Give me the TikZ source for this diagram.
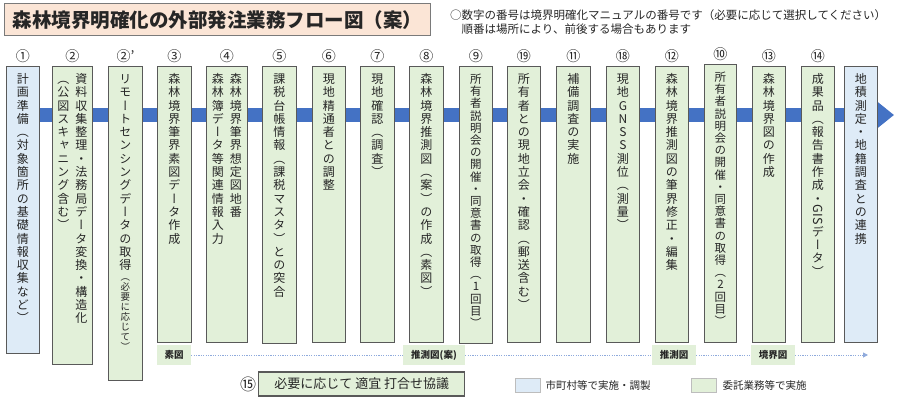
\documentclass[tikz,border=0pt]{standalone}
\usepackage{fontspec}
\usepackage{xcolor}
\usepackage{graphicx}
\usepackage{tikz}
\usetikzlibrary{positioning,backgrounds,arrows.meta}

\setmainfont{Noto Sans CJK JP}
\newfontfamily\vfont[RawFeature={+vert}]{Noto Sans CJK JP}

\definecolor{bandblue}{HTML}{4472C4}
\definecolor{boxgreen}{HTML}{E2F0D9}
\definecolor{boxblue}{HTML}{DEEBF7}
\definecolor{boxline}{HTML}{595959}
\definecolor{titlefill}{HTML}{FBE5D6}
\definecolor{dotblue}{HTML}{8FAADC}
\definecolor{txtgray}{HTML}{262626}

% vertical text: one character per row, fixed pitch
\newlength\vcolw
\setlength\vcolw{15pt}
\newlength\vpitch
\let\vend\relax
\newcommand\vsmall{\fontsize{9.5}{10}\selectfont\setlength\vpitch{10pt}}
\newcommand\vtight{\fontsize{11.5}{12.2}\selectfont\setlength\vpitch{12.2pt}}
\newcommand\rotgis{\rotatebox[origin=c]{-90}{\fontsize{12.5}{12.5}\selectfont GIS}}
\newcommand\vrow[1]{\hbox to\vcolw{\hss\vrule width0pt height.88\vpitch depth.12\vpitch\smash{#1}\hss}}
\def\vchop#1{\ifx#1\vend\else\ifx#1\vsmall\vsmall\else\ifx#1\rotgis\hbox to\vcolw{\hss\rotgis\hss}\else\vrow{#1}\fi\fi\expandafter\vchop\fi}
\newcommand\vcol[2][\fontsize{12}{13.3}\selectfont\setlength\vpitch{13.3pt}]{\vtop{\offinterlineskip\vfont#1\vchop#2\vend}}
\newcommand\vtwo[2]{\hbox{\vcol{#2}\hskip3pt\vcol{#1}}}

\begin{document}
\begin{tikzpicture}[x=1pt, y=-1pt,
		flowbox/.style={draw=boxline, line width=0.9pt, anchor=north west, inner xsep=0pt, inner ysep=3pt, text height=14pt, minimum width=33pt, text=txtgray},
		gbox/.style={flowbox, fill=boxgreen},
		bbox/.style={flowbox, fill=boxblue},
		numlbl/.style={font=\fontsize{14}{14}\selectfont, inner sep=0pt, text=txtgray, above=3pt of #1},
		maplbl/.style={fill=boxgreen, font=\bfseries\fontsize{9.5}{9.5}\selectfont, minimum width=34pt, minimum height=20pt, inner sep=1pt, text=txtgray},
		dotline/.style={dotblue, line width=1pt, dash pattern=on 1.2pt off 1.2pt},
		band/.style={bandblue, line width=14pt, -{Triangle[length=17pt,width=26pt]}},
		swatch/.style={draw=boxline!40, fill=#1, minimum width=25pt, minimum height=14pt, inner sep=0pt, anchor=north west},
		legtxt/.style={font=\fontsize{10.5}{10.5}\selectfont, inner sep=0pt, text=txtgray}
	]
			%\draw[help lines, step=50] (0,0) grid (900,402);
			\useasboundingbox (0,0) rectangle (900,402);

			\node[draw=boxline!80, line width=1.2pt, fill=titlefill, anchor=north west, minimum width=426pt, minimum height=32pt, inner sep=0pt, font=\bfseries\fontsize{19.5}{19.5}\selectfont, text=txtgray] (title) at (4,3) {森林境界明確化の外部発注業務フロー図（案）};
			\node[anchor=north west, align=left, inner sep=0pt, font=\fontsize{11.5}{14.5}\selectfont, text=txtgray] (note) at (450,9) {○数字の番号は境界明確化マニュアルの番号です（必要に応じて選択してください）\\\hspace*{1em}順番は場所により、前後する場合もあります};

			% process columns
			\node[bbox, text depth=267pt] (b1) at (6,66) {\vcol{計画準備（対象箇所の基礎情報収集など）}};
			\node[gbox, minimum width=40pt, text depth=278pt] (b2) at (52,66) {\vtwo{資料収集整理・法務局データ変換・構造化}{（公図スキャニング含む）}};
			\node[gbox, minimum width=34pt, text depth=294pt] (b2p) at (108,66) {\vcol{リモートセンシングデータの取得\vsmall（必要に応じて）}};
			\node[gbox, minimum width=34pt, text depth=256pt] (b3) at (157,66) {\vcol{森林境界筆界素図データ作成}};
			\node[gbox, minimum width=41pt, text depth=256pt] (b4) at (206,66) {\vtwo{森林境界筆界想定図地番}{森林簿データ等関連情報入力}};
			\node[gbox, minimum width=34pt, text depth=257pt] (b5) at (262,66) {\vcol{課税台帳情報（課税マスタ）との突合}};
			\node[gbox, text depth=256pt] (b6) at (312,66) {\vcol{現地精通者との調整}};
			\node[gbox, minimum width=34pt, text depth=256pt] (b7) at (360,66) {\vcol{現地確認（調査）}};
			\node[gbox, minimum width=34pt, text depth=256pt] (b8) at (409,66) {\vcol{森林境界推測図（案）の作成（素図）}};
			\node[gbox, text depth=257pt] (b9) at (459,66) {\vcol[\vtight]{所有者説明会の開催・同意書の取得（1回目）}};
			\node[gbox, text depth=256pt] (b19) at (507,66) {\vcol{所有者との現地立会・確認（郵送含む）}};
			\node[gbox, minimum width=34pt, text depth=256pt] (b11) at (556,66) {\vcol{補備調査の実施}};
			\node[gbox, text depth=256pt] (b18) at (606,66) {\vcol{現地GNSS測位（測量）}};
			\node[gbox, text depth=256pt] (b12) at (655,66) {\vcol{森林境界推測図の筆界修正・編集}};
			\node[gbox, minimum width=32pt, text depth=258pt] (b10) at (704,64) {\vcol[\vtight]{所有者説明会の開催・同意書の取得（2回目）}};
			\node[gbox, text depth=256pt] (b13) at (752,66) {\vcol{森林境界図の作成}};
			\node[gbox, text depth=256pt] (b14) at (801,66) {\vcol{成果品（報告書作成・\rotgis データ）}};
			\node[bbox, text depth=256pt] (bend) at (844,66) {\vcol{地積測定・地籍調査との連携}};

			\foreach \b/\n in {b1/①, b2/②, b2p/②', b3/③, b4/④, b5/⑤, b6/⑥, b7/⑦, b8/⑧, b9/⑨, b19/⑲, b11/⑪, b18/⑱, b12/⑫, b10/⑩, b13/⑬, b14/⑭}
				\node[numlbl=\b] (n\b) {\n};

			\coordinate (tip) at (894,115);
			\begin{scope}[on background layer]
				\draw[band] (b1 |- tip) -- (tip);
			\end{scope}

			% map stages
			\node[maplbl] (lsozu) at (174,355) {素図};
			\node[maplbl, minimum width=62pt] (lsuisokuan) at (434,355) {推測図(案)};
			\node[maplbl, minimum width=44pt] (lsuisoku) at (674,355) {推測図};
			\node[maplbl, minimum width=44pt] (lkyokai) at (773,355) {境界図};
			\coordinate (dotend) at (868,355);
			\draw[dotline] (lsozu) -- (lsuisokuan);
			\draw[dotline] (lsuisokuan) -- (lsuisoku);
			\draw[dotline] (lsuisoku) -- (lkyokai);
			\draw[dotline, -{Triangle[length=5pt,width=5pt]}] (lkyokai) -- (dotend);

			\node[font=\fontsize{16}{16}\selectfont, inner sep=0pt, text=txtgray] (n15) at (248,384) {⑮};
			\node[draw=boxline, line width=1.2pt, fill=boxgreen, minimum width=206pt, minimum height=24pt, inner sep=0pt, font=\fontsize{13}{13}\selectfont, text=txtgray, right=2pt of n15] (meet) {必要に応じて 適宜 打合せ協議};

			% legend
			\node[swatch=boxblue] (legcity) at (515,378) {};
			\node[legtxt, right=5pt of legcity] (legcitytxt) {市町村等で実施・調製};
			\node[swatch=boxgreen] (legout) at (691,378) {};
			\node[legtxt, right=6pt of legout] (legouttxt) {委託業務等で実施};
		\end{tikzpicture}
\end{document}
